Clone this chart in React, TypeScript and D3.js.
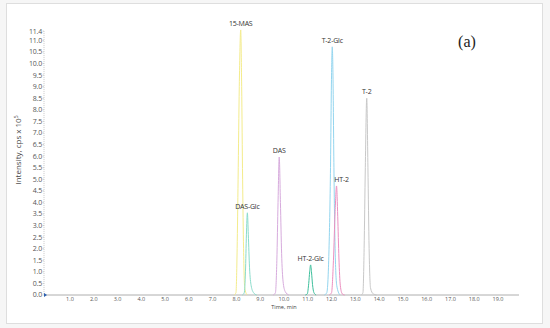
import React from 'react';
import * as d3 from 'd3';

// peak names, colours
const peakNames = ['15-MAS', 'DAS-Glc', 'DAS', 'HT-2-Glc', 'T-2-Glc', 'HT-2', 'T-2'];
const peakColors = ['#f4ec8c', '#8adccb', '#d7abdd', '#3dbf9c', '#93d5ef', '#ec8fc0', '#c8c8c8'];

// [time (min), intensity (cps x 10^5)]
const mas15 = [[7.9, 0], [7.98, 0.1], [8.03, 2], [8.07, 5], [8.12, 9], [8.18, 11.45], [8.22, 9], [8.26, 5], [8.3, 2], [8.35, 0.3], [8.45, 0]];
const dasGlc = [[8.25, 0], [8.33, 0.1], [8.38, 1], [8.42, 2.6], [8.46, 3.55], [8.5, 2.6], [8.55, 1.2], [8.62, 0.4], [8.72, 0.1], [8.85, 0]];
const das = [[9.55, 0], [9.64, 0.1], [9.7, 1.5], [9.75, 4], [9.8, 5.96], [9.85, 4], [9.9, 1.8], [9.96, 0.6], [10.05, 0.15], [10.2, 0]];
const ht2Glc = [[10.9, 0], [10.98, 0.05], [11.04, 0.5], [11.08, 1.0], [11.12, 1.3], [11.16, 0.95], [11.2, 0.45], [11.26, 0.1], [11.35, 0]];
const t2Glc = [[11.7, 0], [11.8, 0.1], [11.88, 1.5], [11.95, 5], [12.0, 9.5], [12.03, 10.72], [12.06, 9.5], [12.1, 5.5], [12.15, 2], [12.22, 0.4], [12.35, 0]];
const ht2 = [[11.9, 0], [12.0, 0.1], [12.08, 1.5], [12.15, 3.6], [12.21, 4.71], [12.26, 3.4], [12.31, 1.6], [12.37, 0.4], [12.45, 0.05], [12.55, 0]];
const t2 = [[13.25, 0], [13.32, 0.1], [13.37, 2], [13.42, 5.5], [13.48, 8.5], [13.53, 5.5], [13.58, 2], [13.64, 0.3], [13.75, 0.05], [13.9, 0]];

const peaks = [mas15, dasGlc, das, ht2Glc, t2Glc, ht2, t2];

const yTicks = [0, 0.5, 1, 1.5, 2, 2.5, 3, 3.5, 4, 4.5, 5, 5.5, 6, 6.5, 7, 7.5, 8, 8.5, 9, 9.5, 10, 10.5, 11, 11.4];
const xTicks = [1, 2, 3, 4, 5, 6, 7, 8, 9, 10, 11, 12, 13, 14, 15, 16, 17, 18, 19];

const W = 550;
const H = 328;
const font = '"Open Sans", "Noto Sans", sans-serif';

export default function App() {
  const x = d3.scaleLinear().domain([0, 19.9]).range([46.2, 519.4]);
  const y = d3.scaleLinear().domain([0, 11.4]).range([295, 31.1]);

  const line = d3.line<number[]>()
    .x(d => x(d[0]))
    .y(d => y(d[1]))
    .curve(d3.curveMonotoneX);

  const apex = (pts: number[][]) => pts.reduce((a, b) => (b[1] > a[1] ? b : a));

  return (
    <svg width={W} height={H} style={{ position: 'absolute', left: 0, top: 0 }}>
      <rect x={0} y={0} width={W} height={H} fill="#f6f6f6" />
      <rect x={6.5} y={3.5} width={536} height={320} fill="#fff" stroke="#dedede" />

      {/* y axis */}
      <line x1={44} x2={44} y1={y(11.4)} y2={y(0)} stroke="#c8c8c8" strokeDasharray="1,1" />
      {yTicks.map(t => (
        <g key={t} transform={`translate(0,${y(t)})`}>
          <line x1={42.5} x2={44} stroke="#bbb" strokeWidth={0.6} />
          <text x={42} dy="0.35em" textAnchor="end" fontSize={7} fill="#555" fontFamily={font} letterSpacing={-0.2}>
            {t.toFixed(1)}
          </text>
        </g>
      ))}

      {/* x axis */}
      <line x1={44} x2={519} y1={y(0)} y2={y(0)} stroke="#9a9a9a" strokeWidth={0.8} />
      <path d={`M44,${y(0) - 2}L47,${y(0)}L44,${y(0) + 2}Z`} fill="#2a5fb0" />
      {xTicks.map(t => (
        <text key={t} x={x(t)} y={301} textAnchor="middle" fontSize={5.5} fill="#555" fontFamily={font}>
          {t.toFixed(1)}
        </text>
      ))}
      <text x={284} y={308.5} textAnchor="middle" fontSize={5.5} fill="#444" fontFamily={font}>Time, min</text>

      <text
        transform={`translate(21,${150}) rotate(-90)`}
        textAnchor="middle"
        fontSize={8}
        fill="#444"
        fontFamily={font}
      >
        Intensity, cps x 10<tspan dy={-3} fontSize={5}>5</tspan>
      </text>

      {/* peaks */}
      {peaks.map((pts, i) => (
        <path key={peakNames[i]} d={line(pts as number[][]) || ''} fill="none" stroke={peakColors[i]} strokeWidth={1} />
      ))}
      {peaks.map((pts, i) => {
        const a = apex(pts);
        return (
          <text
            key={peakNames[i] + '-l'}
            x={x(a[0]) + (peakNames[i] === 'HT-2' ? 5 : 0)}
            y={y(a[1]) - 4}
            textAnchor="middle"
            fontSize={7}
            fill="#333"
            fontFamily={font}
            letterSpacing={-0.2}
          >
            {peakNames[i]}
          </text>
        );
      })}

      <text x={467} y={47} textAnchor="middle" fontSize={16} fill="#222" fontFamily="'Liberation Serif', 'DejaVu Serif', serif">(a)</text>
    </svg>
  );
}
